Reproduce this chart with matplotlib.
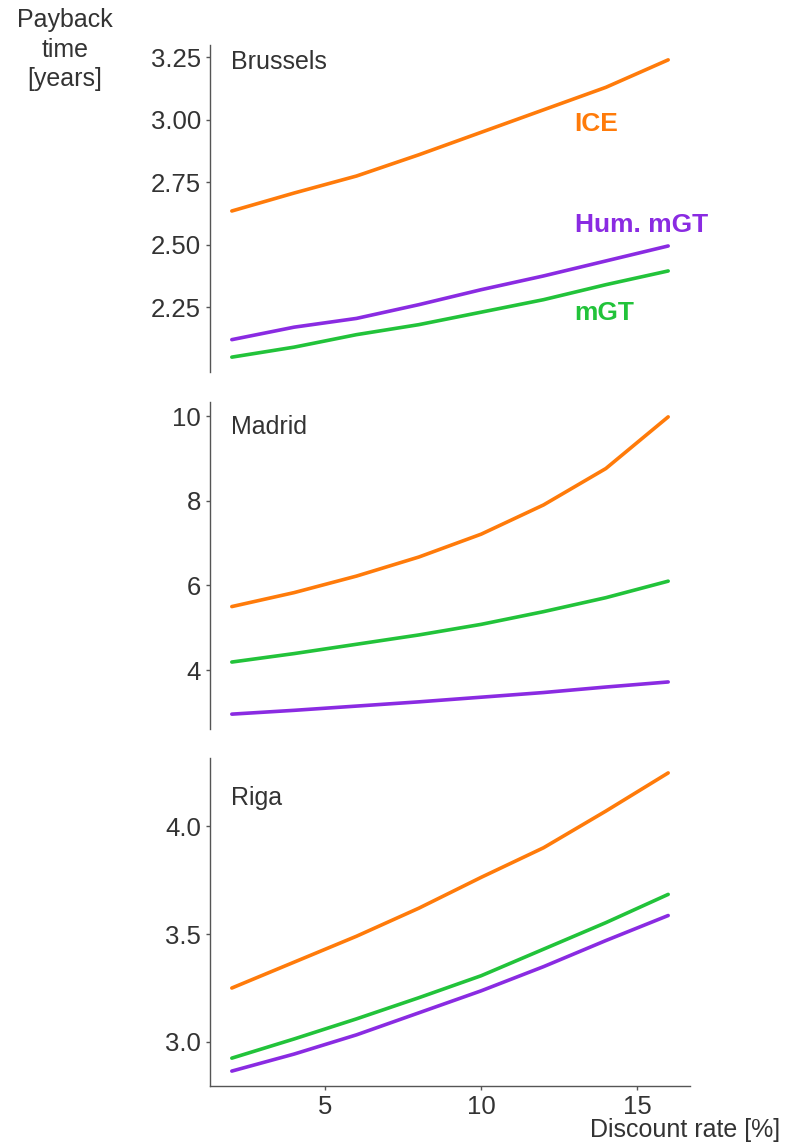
import matplotlib
matplotlib.use("Agg")
import matplotlib.pyplot as plt

plt.rcParams['font.family'] = ['Liberation Sans', 'DejaVu Sans']

discount_rate = [2, 4, 6, 8, 10, 12, 14, 16]

cities = ["Brussels", "Madrid", "Riga"]

ice = {
    "Brussels": [2.635, 2.707, 2.775, 2.86, 2.95, 3.04, 3.13, 3.24],
    "Madrid": [5.50, 5.83, 6.22, 6.67, 7.21, 7.90, 8.76, 9.98],
    "Riga": [3.25, 3.37, 3.49, 3.62, 3.763, 3.90, 4.07, 4.247],
}
hum_mgt = {
    "Brussels": [2.12, 2.17, 2.205, 2.26, 2.32, 2.375, 2.435, 2.495],
    "Madrid": [2.96, 3.05, 3.15, 3.25, 3.36, 3.47, 3.60, 3.72],
    "Riga": [2.865, 2.944, 3.033, 3.135, 3.237, 3.349, 3.47, 3.586],
}
mgt = {
    "Brussels": [2.05, 2.09, 2.14, 2.18, 2.23, 2.28, 2.34, 2.395],
    "Madrid": [4.19, 4.39, 4.61, 4.83, 5.08, 5.38, 5.71, 6.10],
    "Riga": [2.925, 3.014, 3.107, 3.205, 3.307, 3.43, 3.553, 3.684],
}

yticks = {
    "Brussels": [2.25, 2.50, 2.75, 3.00, 3.25],
    "Madrid": [4, 6, 8, 10],
    "Riga": [3.0, 3.5, 4.0],
}
ytick_fmt = {"Brussels": "{:.2f}", "Madrid": "{:.0f}", "Riga": "{:.1f}"}
name_y = {"Brussels": 0.948, "Madrid": 0.924, "Riga": 0.878}

c_ice = "#ff7b0a"
c_hum = "#8a2be2"
c_mgt = "#22c33a"
txt = "#333333"
spine = "#555555"

fig = plt.figure(figsize=(7.93, 11.44), dpi=100)
W, H = 793, 1144
left, right = 210, 690
tops_bottoms = [(45, 372), (402, 729), (758, 1086)]

axes = []
for (top, bot), city in zip(tops_bottoms, cities):
    ax = fig.add_axes([left / W, 1 - bot / H, (right - left) / W, (bot - top) / H])
    ax.plot(discount_rate, ice[city], color=c_ice, lw=2.6, solid_capstyle='round')
    ax.plot(discount_rate, hum_mgt[city], color=c_hum, lw=2.6, solid_capstyle='round')
    ax.plot(discount_rate, mgt[city], color=c_mgt, lw=2.6, solid_capstyle='round')
    ax.spines['top'].set_visible(False)
    ax.spines['right'].set_visible(False)
    for s in ('left', 'bottom'):
        ax.spines[s].set_color(spine)
        ax.spines[s].set_linewidth(1.0)
    ax.set_yticks(yticks[city])
    ax.set_yticklabels([ytick_fmt[city].format(v) for v in yticks[city]])
    ax.tick_params(axis='both', labelsize=18.5, colors=spine, labelcolor=txt,
                   length=3, width=1, direction='out')
    ax.text(0.044, name_y[city], city, transform=ax.transAxes, fontsize=18, color=txt,
            va='center', ha='left')
    ax.set_xticks([5, 10, 15])
    axes.append(ax)

for ax in axes[:2]:
    ax.spines['bottom'].set_visible(False)
    ax.tick_params(axis='x', bottom=False, labelbottom=False)

axes[0].text(13, 2.985, "ICE", color=c_ice, fontsize=19, fontweight='bold', va='center', ha='left')
axes[0].text(13, 2.58, "Hum. mGT", color=c_hum, fontsize=19, fontweight='bold', va='center', ha='left')
axes[0].text(13, 2.225, "mGT", color=c_mgt, fontsize=19, fontweight='bold', va='center', ha='left')

fig.text(780 / W, 1 - 1130 / H, "Discount rate [%]", fontsize=18, color=txt, ha='right', va='center')
fig.text(65 / W, 1 - 8 / H, "Payback\ntime\n[years]", fontsize=18, color=txt, ha='center', va='top',
         linespacing=1.3)

fig.savefig("out.png", dpi=100)
